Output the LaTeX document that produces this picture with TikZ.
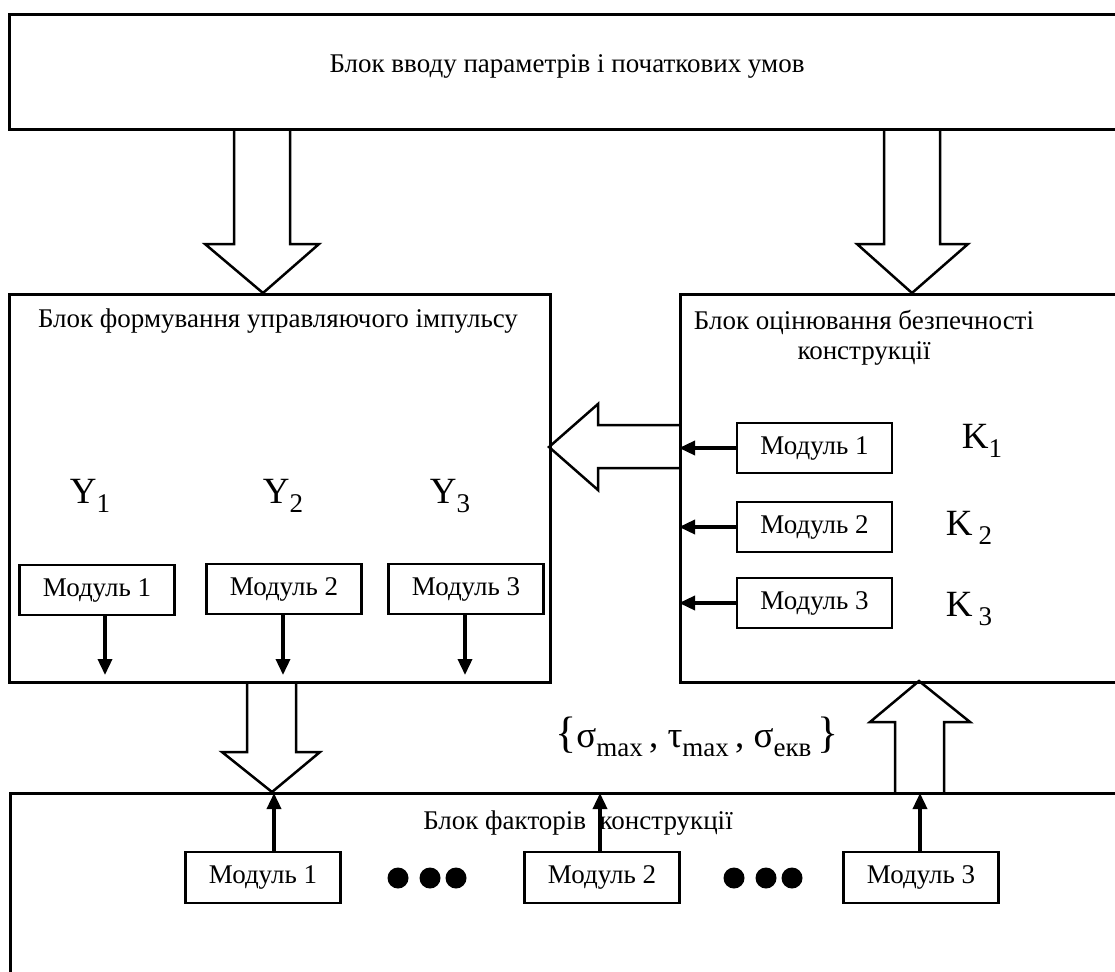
\documentclass[tikz,border=0pt]{standalone}
\usepackage{fontspec}
\setmainfont{Liberation Serif}
\usetikzlibrary{arrows.meta,calc}
\pgfdeclarelayer{bg}
\pgfsetlayers{bg,main}
\newcommand\lowsub[1]{\raisebox{-9pt}{\fontsize{27}{27}\selectfont #1}}
\begin{document}
\begin{tikzpicture}[x=1pt,y=-1pt,
  bigbox/.style={draw, line width=2.6pt, rectangle, inner sep=0pt, anchor=north west},
  modbox/.style={draw, line width=2.5pt, rectangle, inner sep=0pt, minimum width=155pt, minimum height=50pt, font=\fontsize{27}{30}\selectfont},
  txt/.style={inner sep=0pt, font=\fontsize{27}{30}\selectfont},
  bigtxt/.style={inner sep=0pt, font=\fontsize{37}{40}\selectfont},
  thinarrow/.style={line width=3.5pt, -{Triangle[length=16pt,width=14pt]}},
  hollow/.style={draw, line width=2.5pt, fill=white, line join=miter},
  blob/.style={circle, fill=black, inner sep=0pt, minimum size=21pt}]
\useasboundingbox (0,0) rectangle (1115,971);
\clip (0,0) rectangle (1115,971);

% big blocks
\node[bigbox, minimum width=1130pt, minimum height=115pt] (topb) at (8,13) {};
\node[bigbox, minimum width=541pt, minimum height=388pt] (lb) at (8,293) {};
\node[bigbox, minimum width=460pt, minimum height=388pt] (rb) at (679,293) {};
\node[bigbox, minimum width=1130pt, minimum height=220pt] (bb) at (9,792) {};

% titles
\node[txt] (ttop) at (567,66) {Блок вводу параметрів і початкових умов};
\node[txt] (tleft) at (278,321) {Блок формування управляючого імпульсу};
\node[txt, align=center] (tright) at (864,338) {Блок оцінювання безпечності\\конструкції};
\node[txt] (tbot) at (578,823) {Блок факторів \ конструкції};

% Y labels
\node[bigtxt] (y1) at (90,496) {Y\lowsub{1}};
\node[bigtxt] (y2) at (283,496) {Y\lowsub{2}};
\node[bigtxt] (y3) at (450,496) {Y\lowsub{3}};

% K labels
\node[bigtxt] (k1) at (982,441) {K\lowsub{1}};
\node[bigtxt] (k2) at (969,528) {K\,\lowsub{2}};
\node[bigtxt] (k3) at (969,609) {K\,\lowsub{3}};

% sigma label
\node[bigtxt] (sig) at (697,737) {{\fontsize{44}{44}\selectfont\{}σ\lowsub{max}\,, τ\lowsub{max}\,, σ\lowsub{екв}\,{\fontsize{44}{44}\selectfont\}}};

% left modules
\node[modbox] (lm1) at (97,590) {Модуль 1};
\node[modbox] (lm2) at (284,589) {Модуль 2};
\node[modbox] (lm3) at (466,589) {Модуль 3};
\coordinate (l1e) at (105,675);
\coordinate (l2e) at (283,675);
\coordinate (l3e) at (465,675);
\draw[thinarrow] (lm1.south -| l1e) -- (l1e);
\draw[thinarrow] (lm2.south -| l2e) -- (l2e);
\draw[thinarrow] (lm3.south -| l3e) -- (l3e);

% right modules
\node[modbox] (rm1) at (814.5,448) {Модуль 1};
\node[modbox] (rm2) at (814.5,527) {Модуль 2};
\node[modbox] (rm3) at (814.5,603) {Модуль 3};
\draw[thinarrow] (rm1.west) -- (rm1.west -| rb.west);
\draw[thinarrow] (rm2.west) -- (rm2.west -| rb.west);
\draw[thinarrow] (rm3.west) -- (rm3.west -| rb.west);

% bottom modules
\node[modbox, minimum height=51pt] (bm1) at (263,877.5) {Модуль 1};
\node[modbox, minimum height=51pt] (bm2) at (602,877.5) {Модуль 2};
\node[modbox, minimum height=51pt] (bm3) at (921,877.5) {Модуль 3};
\coordinate (b1e) at (274,793);
\coordinate (b2e) at (600,793);
\coordinate (b3e) at (920,793);
\draw[thinarrow] (bm1.north -| b1e) -- (b1e);
\draw[thinarrow] (bm2.north -| b2e) -- (b2e);
\draw[thinarrow] (bm3.north -| b3e) -- (b3e);

% dots
\node[blob] (d1) at (398,878) {};
\node[blob] (d2) at (430,878) {};
\node[blob] (d3) at (456,878) {};
\node[blob] (d4) at (734,878) {};
\node[blob] (d5) at (766,878) {};
\node[blob] (d6) at (792,878) {};

% hollow arrows
\begin{pgfonlayer}{bg}
\draw[hollow] (234,129) -- (234,244) -- (205,244) -- (263,293) -- (319,244) -- (290,244) -- (290,129);
\draw[hollow] (884,129) -- (884,244) -- (857,244) -- (912,293) -- (968,244) -- (940,244) -- (940,129);
\draw[hollow] (679,425) -- (598,425) -- (598,404) -- (549,447) -- (598,490) -- (598,468) -- (679,468);
\draw[hollow] (247,681) -- (247,752) -- (222,752) -- (272,792) -- (320,752) -- (296,752) -- (296,681);
\draw[hollow] (895,792) -- (895,722) -- (870,722) -- (919,681) -- (970,722) -- (944,722) -- (944,792);
\end{pgfonlayer}
\end{tikzpicture}
\end{document}
